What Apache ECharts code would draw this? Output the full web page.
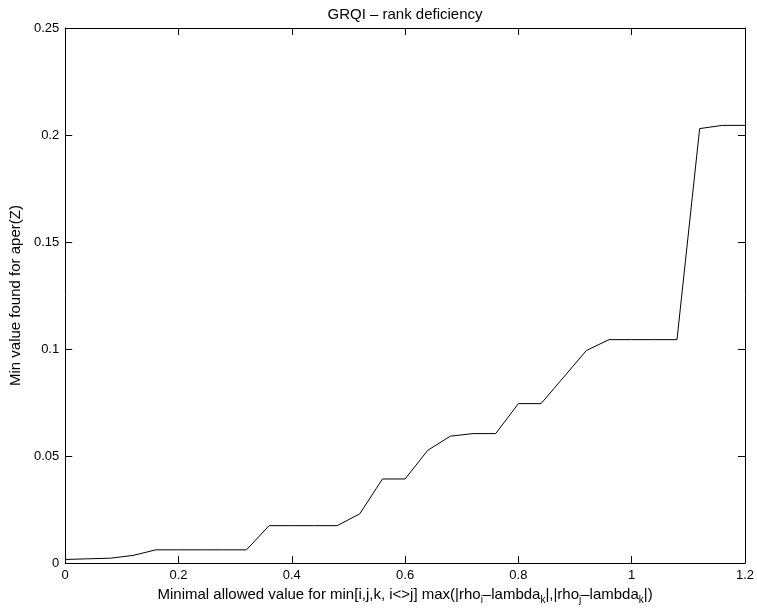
<!DOCTYPE html>
<html>
<head>
<meta charset="utf-8">
<script src="https://cdn.jsdelivr.net/npm/echarts@6/dist/echarts.min.js"></script>
<style>
  html, body { margin: 0; padding: 0; background: #fff; }
  #chart { width: 757px; height: 610px; }
</style>
</head>
<body>
<div id="chart"></div>
<script>
// allowed min distance (x) and min aper(Z) found (y)
var xValues = [0, 0.04, 0.08, 0.12, 0.16, 0.20, 0.24, 0.28, 0.32, 0.36, 0.40,
  0.44, 0.48, 0.52, 0.56, 0.60, 0.64, 0.68, 0.72, 0.76, 0.80,
  0.84, 0.88, 0.92, 0.96, 1.00, 1.04, 1.08, 1.12, 1.16, 1.20];
var yValues = [0.0017, 0.0020, 0.0023, 0.0036, 0.0062, 0.0062, 0.0062, 0.0062, 0.0062, 0.0175, 0.0175,
  0.0175, 0.0175, 0.0230, 0.0393, 0.0393, 0.0527, 0.0593, 0.0605, 0.0605, 0.0745,
  0.0745, 0.0869, 0.0993, 0.1044, 0.1044, 0.1044, 0.1044, 0.2030, 0.2045, 0.2045];

var titleText = 'GRQI \u2013 rank deficiency';
var yName = 'Min value found for aper(Z)';
var xName = '{n|Minimal allowed value for min[i,j,k, i<>j] max(|rho}{s|i}{n|\u2013lambda}{s|k}{n||,|rho}{s|j}{n|\u2013lambda}{s|k}{n||)}';

var font = 'Liberation Sans, Arial, Helvetica, sans-serif';

var points = xValues.map(function(x, i) {
  return [x, yValues[i]];
});

var chart = echarts.init(document.getElementById('chart'));

function frameAxis(pos, isX, showLabel) {
  return {
    type: 'value',
    position: pos,
    min: 0,
    max: isX ? 1.2 : 0.25,
    interval: isX ? 0.2 : 0.05,
    splitLine: { show: false },
    axisLine: { show: true, onZero: false, lineStyle: { color: '#000', width: 1 } },
    axisTick: { show: true, inside: true, length: 7, lineStyle: { color: '#000', width: 1 } },
    axisLabel: {
      show: showLabel,
      color: '#000',
      fontSize: 13,
      fontFamily: font,
      margin: 6,
      formatter: function(v) {
        return String(+v.toFixed(2));
      }
    }
  };
}

var xMain = frameAxis('bottom', true, true);
xMain.name = xName;
xMain.nameLocation = 'middle';
xMain.nameGap = 21;
xMain.nameTextStyle = {
  rich: {
    n: { fontSize: 15, fontFamily: font, color: '#000', lineHeight: 15, verticalAlign: 'top' },
    s: { fontSize: 10, fontFamily: font, color: '#000', lineHeight: 18, verticalAlign: 'bottom' }
  }
};

var yMain = frameAxis('left', false, true);
yMain.name = yName;
yMain.nameLocation = 'middle';
yMain.nameGap = 40;
yMain.nameTextStyle = { fontSize: 15, fontFamily: font, color: '#000' };

chart.setOption({
  backgroundColor: '#fff',
  animation: false,
  title: {
    text: titleText,
    left: 400,
    textAlign: 'center',
    top: 2,
    textStyle: { fontSize: 15, fontWeight: 'normal', fontFamily: font, color: '#000' }
  },
  grid: { left: 63, right: 11, top: 28, bottom: 45 },
  xAxis: [xMain, frameAxis('top', true, false)],
  yAxis: [yMain, frameAxis('right', false, false)],
  series: [{
    type: 'line',
    xAxisIndex: 0,
    yAxisIndex: 0,
    data: points,
    showSymbol: false,
    lineStyle: { color: '#000', width: 1 }
  }]
});
</script>
</body>
</html>
